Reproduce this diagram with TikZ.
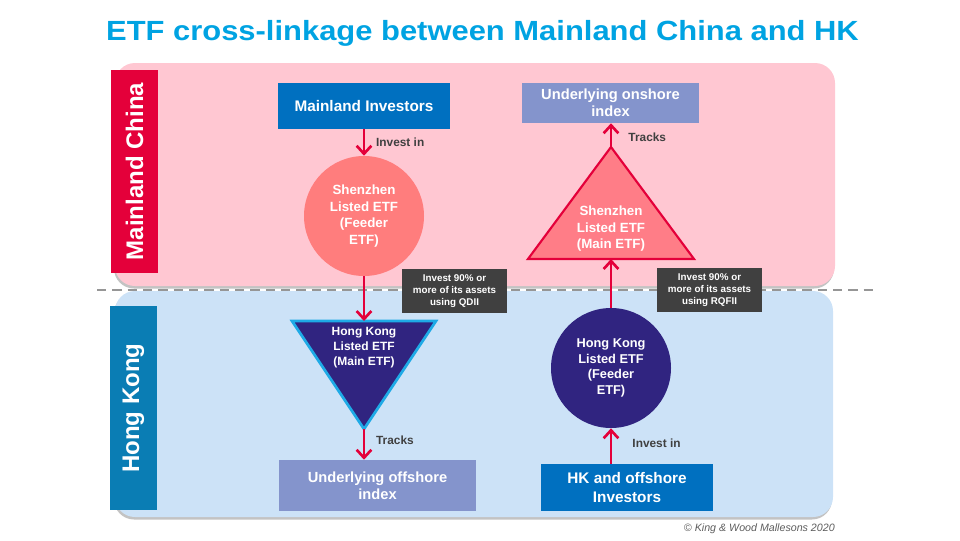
\documentclass[tikz,border=0pt]{standalone}
\usepackage{fontspec}
\setmainfont{Liberation Sans}
\usetikzlibrary{arrows.meta}
\definecolor{titleblue}{RGB}{0,163,226}
\definecolor{pinkpanel}{RGB}{255,199,210}
\definecolor{bluepanel}{RGB}{204,226,247}
\definecolor{kwmred}{RGB}{228,0,58}
\definecolor{hkblue}{RGB}{10,125,180}
\definecolor{invblue}{RGB}{0,112,192}
\definecolor{lavender}{RGB}{132,148,204}
\definecolor{salmon}{RGB}{255,125,125}
\definecolor{salmontri}{RGB}{255,125,135}
\definecolor{indigo}{RGB}{48,36,128}
\definecolor{lightedge}{RGB}{30,170,230}
\definecolor{darkbox}{RGB}{64,64,64}
\definecolor{shadowgray}{RGB}{195,195,195}
\definecolor{dashgray}{RGB}{150,150,150}
\tikzset{
  panel/.style={rounded corners=15pt},
  sidelabel/.style={rotate=90, text=white, inner sep=0pt, font=\bfseries\fontsize{18}{20}\selectfont},
  boxnode/.style={inner sep=0pt, text=white, align=center, font=\bfseries\fontsize{11}{12.75}\selectfont},
  notebox/.style={fill=darkbox, inner sep=0pt, text=white, align=center, minimum width=78.75pt, minimum height=33pt, font=\bfseries\fontsize{7.35}{8.75}\selectfont},
  roundnode/.style={circle, inner sep=0pt, minimum size=90pt, text=white, align=center},
  arr/.style={draw=kwmred, line width=2.2pt, -{Straight Barb[length=6pt,width=11pt,line width=2pt]}},
  edgelab/.style={text=darkbox, inner sep=0pt, font=\bfseries\fontsize{8.9}{10}\selectfont}
}
\begin{document}
\begin{tikzpicture}[x=0.75pt,y=-0.75pt]
\useasboundingbox (0,0) rectangle (960,540);
% title
\node[anchor=base, text=titleblue, inner sep=0pt, font=\bfseries\fontsize{20.8}{22}\selectfont] (title) at (482.5,40) {\scalebox{1.115}[1]{ETF cross-linkage between Mainland China and HK}};
% panels with shadow
\fill[shadowgray, panel] (114,65.5) rectangle (834,288.5);
\fill[pinkpanel, panel] (115,63) rectangle (835,286);
\fill[shadowgray, panel] (114,293.5) rectangle (832,519.5);
\fill[bluepanel, panel] (115,291) rectangle (833,517);
% dashed divider
\draw[dashgray, line width=1.5pt, dash pattern=on 7pt off 4.5pt] (97,289.5) -- (877,289.5);
% side labels
\node[sidelabel, fill=kwmred, minimum width=152.25pt, minimum height=35.25pt] (mclab) at (134.5,171.5) {Mainland China};
\node[sidelabel, fill=hkblue, minimum width=153pt, minimum height=35.25pt] (hklab) at (133.5,408) {Hong Kong};
% boxes
\node[boxnode, fill=invblue, minimum width=129pt, minimum height=34.5pt, font=\bfseries\fontsize{11.5}{13}\selectfont] (minv) at (364,106) {Mainland Investors};
\node[boxnode, fill=lavender, minimum width=132.75pt, minimum height=30pt] (onidx) at (610.5,103) {Underlying onshore\\index};
\node[boxnode, fill=lavender, minimum width=147.75pt, minimum height=38.25pt] (offidx) at (377.5,485.5) {Underlying offshore\\index};
\node[boxnode, fill=invblue, minimum width=129pt, minimum height=35.25pt, font=\bfseries\fontsize{11.5}{14.25}\selectfont] (hkinv) at (627,487.5) {HK and offshore\\Investors};
% circles
\node[roundnode, fill=salmon, font=\bfseries\fontsize{10}{12.5}\selectfont] (szc) at (364,216) {Shenzhen\\Listed ETF\\(Feeder\\ETF)};
\node[roundnode, fill=indigo, font=\bfseries\fontsize{9.6}{11.8}\selectfont] (hkc) at (611,368) {Hong Kong\\Listed ETF\\(Feeder\\ETF)};
% Shenzhen main ETF triangle
\coordinate (szta) at (611,147);
\coordinate (sztl) at (528,259);
\coordinate (sztr) at (694,259);
\coordinate (sztb) at (611,259);
\filldraw[fill=salmontri, draw=kwmred, line width=1.6pt, line join=miter] (szta) -- (sztr) -- (sztl) -- cycle;
\node[text=white, align=center, inner sep=0pt, font=\bfseries\fontsize{10}{12.4}\selectfont] (szt) at (611,229) {Shenzhen\\Listed ETF\\(Main ETF)};
% Hong Kong main ETF triangle
\coordinate (hktl) at (292,321);
\coordinate (hktr) at (436,321);
\coordinate (hktt) at (364,321);
\coordinate (hkta) at (364,429);
\filldraw[fill=indigo, draw=lightedge, line width=2pt, line join=miter] (hktl) -- (hktr) -- (hkta) -- cycle;
\node[text=white, align=center, inner sep=0pt, font=\bfseries\fontsize{9}{11.25}\selectfont] (hkt) at (364,348) {Hong Kong\\Listed ETF\\(Main ETF)};
% connectors
\draw[arr] (minv.south) -- (szc.north) node[midway, anchor=west, xshift=8pt, edgelab] (lab1) {Invest in};
\draw[arr] (szc.south) -- (hktt);
\draw[arr] (hkta) -- (hkta |- offidx.north) node[midway, anchor=west, xshift=8pt, yshift=3pt, edgelab] (lab2) {Tracks};
\draw[arr] (hkinv.north -| hkc.south) -- (hkc.south) node[midway, anchor=west, xshift=15pt, yshift=2pt, edgelab] (lab3) {Invest in};
\draw[arr] (hkc.north) -- (sztb);
\draw[arr] (szta) -- (szta |- onidx.south) node[midway, anchor=west, xshift=12pt, yshift=-1.5pt, edgelab] (lab4) {Tracks};
% note boxes
\node[notebox] (qdii) at (454.5,291) {Invest 90\% or\\more of its assets\\using QDII};
\node[notebox] (rqfii) at (709.5,290) {Invest 90\% or\\more of its assets\\using RQFII};
% copyright
\node[anchor=east, inner sep=0pt, text=darkbox!85, font=\itshape\fontsize{8}{9}\selectfont] (copy) at (835,529) {© King \& Wood Mallesons 2020};
\end{tikzpicture}
\end{document}
